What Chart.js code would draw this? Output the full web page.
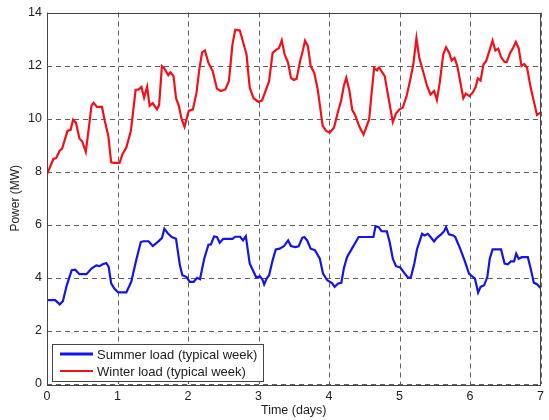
<!DOCTYPE html>
<html>
<head>
<meta charset="utf-8">
<script src="https://cdn.jsdelivr.net/npm/chart.js@4.4.1/dist/chart.umd.min.js"></script>
<style>
  html, body { margin: 0; padding: 0; background: #fff; }
  #wrap { width: 549px; height: 420px; }
</style>
</head>
<body>
<div id="wrap"><canvas id="myChart" width="549" height="420"></canvas></div>
<script>
// values (time in days, power in MW)
const winterDay = [0, 0.09, 0.13, 0.18, 0.215, 0.29, 0.335, 0.37, 0.41, 0.46, 0.5, 0.55, 0.6, 0.63, 0.66, 0.71, 0.78, 0.82, 0.87, 0.91, 0.955, 1.03, 1.07, 1.125, 1.19, 1.257, 1.3, 1.34, 1.377, 1.42, 1.456, 1.5, 1.56, 1.59, 1.63, 1.665, 1.72, 1.75, 1.795, 1.83, 1.87, 1.91, 1.95, 2.01, 2.07, 2.12, 2.16, 2.2, 2.24, 2.29, 2.35, 2.41, 2.465, 2.53, 2.58, 2.63, 2.67, 2.735, 2.83, 2.875, 2.93, 3.0, 3.05, 3.09, 3.15, 3.2, 3.255, 3.29, 3.33, 3.37, 3.42, 3.46, 3.5, 3.54, 3.59, 3.63, 3.66, 3.7, 3.74, 3.79, 3.84, 3.91, 3.96, 4.01, 4.07, 4.13, 4.17, 4.21, 4.245, 4.29, 4.33, 4.37, 4.43, 4.49, 4.57, 4.6, 4.64, 4.68, 4.71, 4.79, 4.835, 4.905, 4.95, 5.0, 5.045, 5.1, 5.15, 5.195, 5.24, 5.28, 5.34, 5.39, 5.44, 5.49, 5.53, 5.57, 5.62, 5.66, 5.705, 5.74, 5.78, 5.82, 5.86, 5.905, 5.94, 5.99, 6.035, 6.08, 6.11, 6.15, 6.19, 6.23, 6.28, 6.32, 6.36, 6.4, 6.44, 6.49, 6.52, 6.57, 6.61, 6.65, 6.69, 6.73, 6.77, 6.81, 6.86, 6.905, 6.95, 7.0];
const winterMW = [7.9, 8.48, 8.51, 8.79, 8.87, 9.54, 9.58, 9.96, 9.85, 9.25, 9.14, 8.75, 9.79, 10.48, 10.6, 10.44, 10.44, 9.91, 9.35, 8.35, 8.33, 8.33, 8.66, 8.91, 9.54, 11.08, 11.1, 11.19, 10.79, 11.2, 10.48, 10.58, 10.35, 10.51, 11.98, 11.89, 11.64, 11.75, 11.6, 10.77, 10.48, 9.98, 9.69, 10.29, 10.35, 10.97, 11.85, 12.5, 12.57, 12.1, 11.79, 11.13, 11.04, 11.1, 11.41, 12.79, 13.35, 13.32, 12.42, 11.17, 10.77, 10.63, 10.69, 10.97, 11.41, 12.48, 12.6, 12.66, 12.95, 12.42, 12.1, 11.54, 11.46, 11.5, 12.17, 12.58, 12.94, 12.73, 11.98, 11.73, 11.1, 9.73, 9.54, 9.47, 9.66, 10.29, 10.66, 11.23, 11.54, 11.04, 10.32, 10.14, 9.7, 9.4, 9.98, 10.85, 11.91, 11.82, 11.93, 11.6, 10.91, 9.87, 10.19, 10.35, 10.41, 10.85, 11.44, 12.04, 13.04, 12.29, 11.73, 11.23, 10.91, 11.04, 10.7, 11.35, 12.42, 12.69, 12.48, 12.19, 12.29, 11.98, 11.41, 10.77, 10.94, 10.85, 10.97, 11.19, 11.52, 11.44, 12.04, 12.17, 12.6, 12.94, 12.57, 12.64, 12.32, 12.14, 12.13, 12.48, 12.66, 12.89, 12.66, 11.98, 12.06, 11.91, 11.17, 10.66, 10.14, 10.23];

const summerDay = [0, 0.117, 0.18, 0.225, 0.28, 0.35, 0.4, 0.46, 0.56, 0.63, 0.7, 0.745, 0.79, 0.84, 0.875, 0.91, 0.955, 1.01, 1.125, 1.195, 1.265, 1.33, 1.37, 1.44, 1.5, 1.56, 1.63, 1.665, 1.72, 1.77, 1.83, 1.885, 1.92, 1.98, 2.025, 2.08, 2.13, 2.17, 2.23, 2.29, 2.325, 2.37, 2.41, 2.45, 2.5, 2.63, 2.67, 2.74, 2.78, 2.82, 2.875, 2.92, 2.97, 3.02, 3.055, 3.08, 3.115, 3.15, 3.2, 3.245, 3.3, 3.36, 3.42, 3.46, 3.52, 3.57, 3.62, 3.65, 3.69, 3.74, 3.8, 3.87, 3.915, 3.975, 4.045, 4.08, 4.13, 4.175, 4.21, 4.255, 4.325, 4.42, 4.63, 4.66, 4.705, 4.745, 4.82, 4.86, 4.905, 4.95, 5.01, 5.07, 5.12, 5.16, 5.21, 5.25, 5.32, 5.355, 5.4, 5.44, 5.49, 5.53, 5.59, 5.63, 5.66, 5.7, 5.76, 5.79, 5.86, 5.93, 5.985, 6.03, 6.07, 6.115, 6.15, 6.2, 6.245, 6.28, 6.32, 6.44, 6.49, 6.535, 6.58, 6.625, 6.655, 6.69, 6.735, 6.82, 6.86, 6.905, 6.95, 7.0];
const summerMW = [3.16, 3.16, 3.0, 3.12, 3.72, 4.29, 4.31, 4.14, 4.14, 4.35, 4.47, 4.44, 4.51, 4.56, 4.41, 3.79, 3.6, 3.45, 3.45, 3.85, 4.66, 5.35, 5.38, 5.38, 5.2, 5.33, 5.5, 5.85, 5.66, 5.54, 5.47, 4.47, 4.1, 4.03, 3.85, 3.85, 4.0, 3.95, 4.72, 5.25, 5.26, 5.56, 5.54, 5.32, 5.47, 5.47, 5.55, 5.55, 5.41, 5.57, 4.54, 4.29, 4.01, 4.06, 3.94, 3.75, 3.97, 4.1, 4.66, 5.07, 5.1, 5.19, 5.41, 5.2, 5.16, 5.19, 5.51, 5.54, 5.41, 5.1, 5.04, 4.72, 4.16, 3.91, 3.79, 3.66, 3.79, 3.81, 4.35, 4.78, 5.1, 5.54, 5.54, 5.95, 5.91, 5.76, 5.75, 5.35, 4.72, 4.44, 4.39, 4.18, 4.01, 4.01, 4.54, 5.1, 5.66, 5.6, 5.66, 5.54, 5.37, 5.51, 5.64, 5.75, 5.91, 5.64, 5.6, 5.54, 5.1, 4.6, 4.16, 4.06, 3.97, 3.45, 3.66, 3.72, 4.03, 4.72, 5.07, 5.07, 4.54, 4.51, 4.62, 4.62, 4.91, 4.72, 4.78, 4.78, 4.35, 3.82, 3.76, 3.62];

const seriesLabels = ['Summer load (typical week)', 'Winter load (typical week)'];
const xTicks = [0, 1, 2, 3, 4, 5, 6, 7];
const yTicks = [0, 2, 4, 6, 8, 10, 12, 14];

const blue = 'rgb(20,20,235)';
const red = 'rgb(245,15,25)';
const font = "Arial, 'Liberation Sans', sans-serif";

function pairs(xs, ys) {
    return xs.map((x, i) => ({ x: x, y: ys[i] }));
}

// dashed grid, drawn from the scales' own ticks
const dashGridPlugin = {
    id: 'dashGrid',
    beforeDatasetsDraw(chart) {
        const a = chart.chartArea;
        const c = chart.ctx;
        const xs = chart.scales.x, ys = chart.scales.y;
        c.save();
        c.strokeStyle = '#606060';
        c.lineWidth = 1;
        c.setLineDash([5, 4]);
        xs.ticks.forEach((t) => {
            const px = Math.round(xs.getPixelForValue(t.value)) + 0.5;
            c.beginPath();
            c.moveTo(px, a.top);
            c.lineTo(px, a.bottom);
            c.stroke();
        });
        ys.ticks.forEach((t) => {
            const py = Math.round(ys.getPixelForValue(t.value)) + 0.5;
            c.beginPath();
            c.moveTo(a.left, py);
            c.lineTo(a.right, py);
            c.stroke();
        });
        c.restore();
    }
};

// box around the plot, like the matlab axes
const boxPlugin = {
    id: 'box',
    afterDatasetsDraw(chart) {
        const a = chart.chartArea;
        const c = chart.ctx;
        c.save();
        c.strokeStyle = '#444';
        c.lineWidth = 1;
        c.strokeRect(Math.round(a.left) + 0.5, Math.round(a.top) + 0.5,
            Math.round(a.right - a.left) - 1, Math.round(a.bottom - a.top));
        c.restore();
    }
};

// legend in the lower left corner of the plot
const legendPlugin = {
    id: 'boxLegend',
    afterDraw(chart) {
        const c = chart.ctx;
        const x = 52, y = 344, w = 211, h = 37;
        c.save();
        c.fillStyle = '#fff';
        c.fillRect(x, y, w, h);
        c.strokeStyle = '#444';
        c.lineWidth = 1;
        c.strokeRect(x + 0.5, y + 0.5, w, h);
        c.font = '13px ' + font;
        c.textBaseline = 'middle';
        chart.data.datasets.forEach((ds, i) => {
            const ly = y + 10 + i * 17;
            c.strokeStyle = ds.borderColor;
            c.lineWidth = i === 0 ? 3 : 2;
            c.beginPath();
            c.moveTo(x + 8, ly);
            c.lineTo(x + 41, ly);
            c.stroke();
            c.fillStyle = '#222';
            c.fillText(ds.label, x + 45, ly + 1);
        });
        c.restore();
    }
};

const ctx = document.getElementById('myChart');

new Chart(ctx, {
    type: 'line',
    data: {
        datasets: [{
            label: seriesLabels[0],
            data: pairs(summerDay, summerMW),
            borderColor: blue,
            borderWidth: 2.2,
            pointRadius: 0,
            tension: 0
        }, {
            label: seriesLabels[1],
            data: pairs(winterDay, winterMW),
            borderColor: red,
            borderWidth: 2.2,
            pointRadius: 0,
            tension: 0
        }]
    },
    plugins: [dashGridPlugin, boxPlugin, legendPlugin],
    options: {
        responsive: false,
        animation: false,
        layout: { padding: { left: 0, right: 1, top: 11, bottom: 0 } },
        plugins: {
            legend: { display: false },
            tooltip: { enabled: false }
        },
        scales: {
            x: {
                type: 'linear',
                min: 0,
                max: 7,
                afterBuildTicks: (s) => { s.ticks = xTicks.map(v => ({ value: v })); },
                afterFit: (s) => { s.height = 36; },
                ticks: { padding: 5, color: '#222', font: { size: 12.5, family: font } },
                grid: { display: false, drawTicks: false },
                border: { display: false },
                title: {
                    display: true,
                    text: 'Time (days)',
                    color: '#222',
                    font: { size: 12.5, family: font },
                    padding: { top: 0, bottom: 2 }
                }
            },
            y: {
                min: 0,
                max: 14,
                afterBuildTicks: (s) => { s.ticks = yTicks.map(v => ({ value: v })); },
                afterFit: (s) => { s.width = 47; },
                ticks: { padding: 5, color: '#222', font: { size: 12.5, family: font } },
                grid: { display: false, drawTicks: false },
                border: { display: false },
                title: {
                    display: true,
                    text: 'Power (MW)',
                    color: '#222',
                    font: { size: 12, family: font },
                    padding: { top: 8, bottom: 0 }
                }
            }
        }
    }
});
</script>
</body>
</html>
